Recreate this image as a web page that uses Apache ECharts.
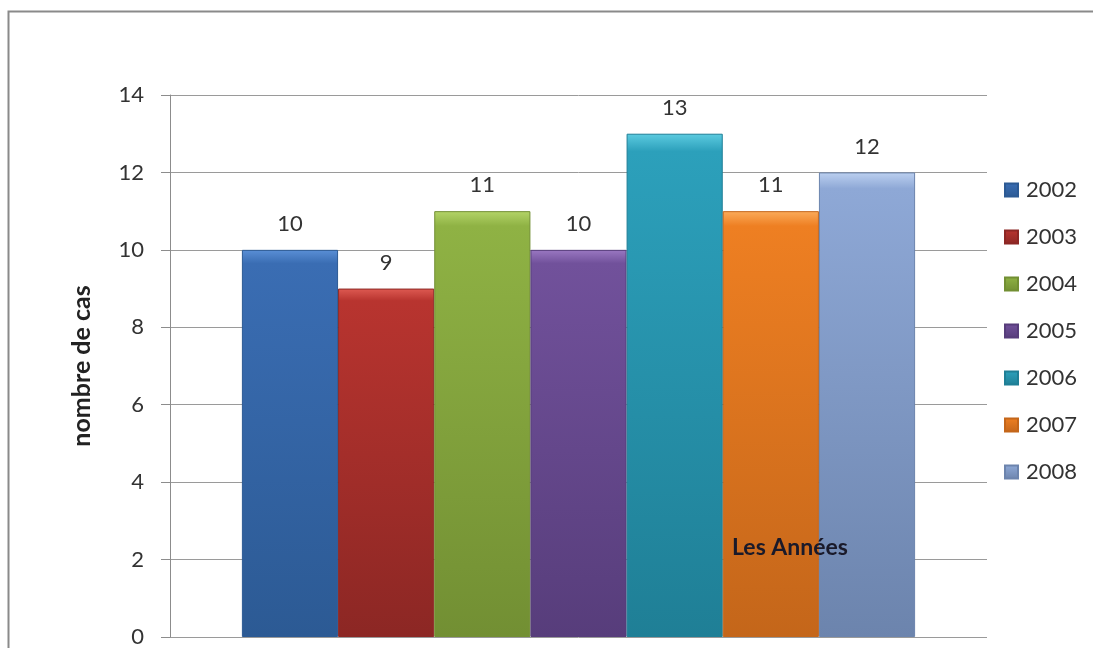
<!DOCTYPE html>
<html>
<head>
<meta charset="utf-8">
<script src="https://cdn.jsdelivr.net/npm/echarts@6/dist/echarts.min.js"></script>
<style>html,body{margin:0;padding:0;background:#fff}#c{width:1093px;height:648px}</style>
</head>
<body>
<div id="c"></div>
<script>
var categories = [''];
var years = ['2002','2003','2004','2005','2006','2007','2008'];
var values = [10, 9, 11, 10, 13, 11, 12];
var yTicks = [0, 2, 4, 6, 8, 10, 12, 14];
var colors = [
  ['#5a8fd6','#3a6db3','#2c5a94'],
  ['#de5a52','#b8342f','#8c2724'],
  ['#b4d468','#8fb244','#728f33'],
  ['#9a78c2','#71519b','#573d7b'],
  ['#5ccbe0','#2ca0bb','#1f7f96'],
  ['#fbab5a','#ee7f22','#c4661a'],
  ['#bcd0f0','#8ea8d6','#6c84ad']
];
var FONT = 'Lato, "Open Sans", sans-serif';
var series = years.map(function(y, i){
  var c = colors[i];
  return {
    name: y,
    type: 'bar',
    data: [values[i]],
    barGap: '0%',
    barCategoryGap: '17.6%',
    itemStyle: {
      color: {type:'linear', x:0, y:0, x2:0, y2:1, colorStops:[
        {offset:0, color:c[0]}, {offset:0.035, color:c[1]}, {offset:1, color:c[2]}
      ]},
      borderColor: c[2],
      borderWidth: 1
    },
    label: {show:true, position:'top', distance:15, color:'#333', fontSize:22, fontFamily:FONT}
  };
});
var chart = echarts.init(document.getElementById('c'));
chart.setOption({
  animation:false,
  backgroundColor:'#fff',
  color: colors.map(function(c){return c[1];}),
  grid:{left:170, right:106, top:95, bottom:9},
  legend:{
    orient:'vertical', left:999, top:174,
    itemWidth:13, itemHeight:13, itemGap:25,
    icon:'rect',
    textStyle:{fontSize:22, color:'#333', fontFamily:FONT, padding:[0,0,0,3]},
    data: years
  },
  xAxis:{
    type:'category', data:categories,
    axisLine:{show:false}, axisTick:{show:false}, axisLabel:{show:false}
  },
  yAxis:{
    type:'value', min:yTicks[0], max:yTicks[yTicks.length-1], interval:2,
    name:'nombre de cas', nameLocation:'middle', nameGap:76,
    nameTextStyle:{fontSize:25, fontWeight:'bold', color:'#222', fontFamily:FONT},
    axisLine:{show:true, lineStyle:{color:'#8c8c8c'}},
    axisTick:{show:true, length:9, lineStyle:{color:'#8c8c8c'}},
    axisLabel:{fontSize:22, color:'#333', margin:26, fontFamily:FONT},
    splitLine:{show:true, lineStyle:{color:'#9a9a9a'}}
  },
  graphic:[
    {type:'rect', shape:{x:8.5, y:11.5, width:1200, height:800}, style:{fill:'none', stroke:'#8a8a8a', lineWidth:2}, silent:true},
    {type:'text', z:100, style:{x:732, y:548, text:'Les Années', fontSize:23, fontWeight:'bold', fill:'#1a1a2a', fontFamily:FONT, verticalAlign:'middle'}}
  ],
  series: series
});
</script>
</body>
</html>
